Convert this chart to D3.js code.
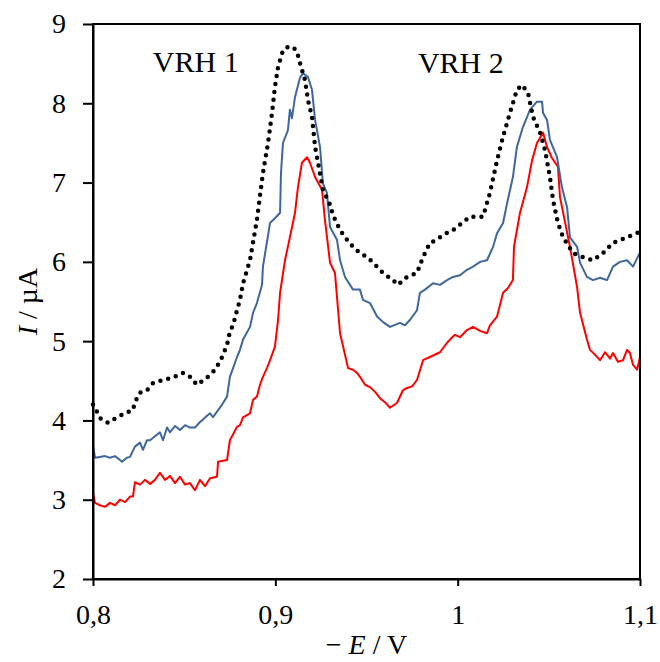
<!DOCTYPE html>
<html>
<head>
<meta charset="utf-8">
<script src="https://cdn.jsdelivr.net/npm/d3@7"></script>
<style>
  body { margin: 0; background: #fff; }
  svg text { font-family: "Liberation Serif", "Times New Roman", serif; fill: #000; }
</style>
</head>
<body>
<div id="chart"></div>
<script>
// size of the picture and the margins round the plot area
var width = 660,
    height = 662,
    margin = {top: 24, right: 20, bottom: 83, left: 93};

var innerW = width - margin.left - margin.right,
    innerH = height - margin.top - margin.bottom;

// tick labels
var xTicks = [0.8, 0.9, 1.0, 1.1];
var xTickLabels = ["0,8", "0,9", "1", "1,1"];
var yTicks = [2, 3, 4, 5, 6, 7, 8, 9];

// black dotted curve (potential, current)
var blackE = [0.8000,0.8011,0.8038,0.8082,0.8132,0.8176,0.8219,0.8230,0.8258,0.8296,0.8329,0.8384,0.8439,0.8494,0.8532,0.8570,0.8625,0.8658,0.8697,0.8735,0.8751,0.8768,0.8790,0.8806,0.8823,0.8861,0.8899,0.8932,0.8960,0.8982,0.8998,0.9015,0.9042,0.9069,0.9097,0.9119,0.9135,0.9163,0.9179,0.9201,0.9218,0.9234,0.9261,0.9300,0.9316,0.9355,0.9393,0.9426,0.9464,0.9503,0.9536,0.9591,0.9645,0.9672,0.9722,0.9777,0.9810,0.9848,0.9887,0.9920,0.9974,1.0013,1.0068,1.0139,1.0177,1.0216,1.0249,1.0287,1.0325,1.0353,1.0386,1.0413,1.0452,1.0479,1.0506,1.0523,1.0550,1.0578,1.0633,1.0687,1.0742,1.0797,1.0852,1.0929,1.1000];
var blackI = [4.20,4.16,4.03,3.97,4.04,4.09,4.13,4.23,4.35,4.38,4.47,4.51,4.54,4.60,4.55,4.45,4.54,4.61,4.74,4.95,5.12,5.20,5.39,5.52,5.73,6.02,6.53,7.12,7.50,7.88,8.21,8.46,8.67,8.71,8.71,8.65,8.51,8.29,8.04,7.83,7.45,7.25,6.91,6.72,6.59,6.40,6.28,6.19,6.11,6.06,5.99,5.86,5.77,5.71,5.81,5.86,6.06,6.24,6.28,6.34,6.40,6.47,6.57,6.57,6.87,7.28,7.58,7.88,8.17,8.23,8.13,7.83,7.63,7.41,7.07,6.78,6.49,6.31,6.11,6.06,6.02,6.11,6.24,6.31,6.38];

// blue curve
var blueE = [0.8000,0.8011,0.8038,0.8066,0.8093,0.8121,0.8148,0.8159,0.8186,0.8203,0.8230,0.8258,0.8274,0.8296,0.8313,0.8340,0.8367,0.8384,0.8406,0.8422,0.8450,0.8477,0.8505,0.8532,0.8559,0.8587,0.8603,0.8625,0.8642,0.8658,0.8680,0.8708,0.8735,0.8751,0.8790,0.8806,0.8823,0.8861,0.8878,0.8899,0.8927,0.8932,0.8971,0.8998,0.9026,0.9031,0.9042,0.9069,0.9080,0.9091,0.9108,0.9135,0.9152,0.9179,0.9201,0.9218,0.9245,0.9261,0.9283,0.9300,0.9338,0.9355,0.9382,0.9426,0.9464,0.9481,0.9519,0.9558,0.9591,0.9629,0.9684,0.9711,0.9739,0.9777,0.9793,0.9821,0.9865,0.9903,0.9942,0.9974,1.0013,1.0051,1.0084,1.0123,1.0161,1.0194,1.0216,1.0249,1.0271,1.0303,1.0325,1.0358,1.0397,1.0435,1.0463,1.0468,1.0490,1.0506,1.0545,1.0572,1.0600,1.0616,1.0655,1.0671,1.0709,1.0742,1.0781,1.0819,1.0852,1.0890,1.0929,1.0962,1.1000];
var blueI = [3.69,3.53,3.54,3.55,3.53,3.55,3.50,3.48,3.53,3.54,3.67,3.72,3.63,3.75,3.75,3.80,3.85,3.75,3.91,3.85,3.93,3.88,3.94,3.91,3.91,3.98,4.01,4.06,4.09,4.04,4.11,4.20,4.30,4.55,4.80,4.89,5.02,5.18,5.36,5.48,5.71,5.94,6.49,6.55,6.62,7.12,7.50,7.66,7.92,7.81,8.08,8.32,8.38,8.33,8.17,7.79,7.45,6.99,6.87,6.44,6.28,6.02,5.81,5.65,5.65,5.52,5.48,5.31,5.24,5.18,5.23,5.20,5.27,5.39,5.61,5.65,5.73,5.71,5.77,5.81,5.83,5.90,5.94,6.00,6.02,6.19,6.36,6.49,6.74,7.07,7.45,7.70,7.92,8.02,8.02,7.88,7.79,7.54,7.32,6.94,6.69,6.31,6.19,5.99,5.81,5.77,5.80,5.77,5.94,6.00,6.02,5.94,6.12];

// red curve
var redE = [0.8000,0.8011,0.8038,0.8066,0.8093,0.8121,0.8148,0.8176,0.8203,0.8219,0.8230,0.8258,0.8285,0.8313,0.8340,0.8367,0.8395,0.8422,0.8450,0.8477,0.8505,0.8532,0.8559,0.8587,0.8614,0.8642,0.8680,0.8686,0.8735,0.8751,0.8790,0.8806,0.8823,0.8861,0.8878,0.8899,0.8916,0.8932,0.8954,0.8971,0.8998,0.9015,0.9026,0.9053,0.9080,0.9108,0.9124,0.9146,0.9174,0.9190,0.9218,0.9256,0.9272,0.9300,0.9327,0.9355,0.9399,0.9426,0.9448,0.9464,0.9492,0.9519,0.9547,0.9574,0.9601,0.9629,0.9667,0.9700,0.9722,0.9750,0.9777,0.9810,0.9848,0.9903,0.9942,0.9958,0.9985,1.0013,1.0051,1.0084,1.0123,1.0161,1.0177,1.0216,1.0249,1.0276,1.0303,1.0309,1.0342,1.0380,1.0408,1.0435,1.0468,1.0490,1.0517,1.0550,1.0561,1.0589,1.0616,1.0655,1.0671,1.0709,1.0726,1.0753,1.0781,1.0808,1.0836,1.0852,1.0879,1.0907,1.0929,1.0945,1.0962,1.0984,1.1000];
var redI = [3.09,2.96,2.93,2.91,2.96,2.93,3.00,2.97,3.04,3.04,3.22,3.19,3.25,3.20,3.25,3.34,3.25,3.30,3.21,3.29,3.19,3.21,3.12,3.25,3.17,3.27,3.29,3.48,3.50,3.75,3.92,3.94,4.04,4.09,4.26,4.30,4.45,4.55,4.66,4.76,4.93,5.27,5.61,6.02,6.31,6.62,6.94,7.25,7.32,7.25,7.07,6.91,6.53,5.99,5.86,5.10,4.66,4.64,4.60,4.55,4.45,4.42,4.36,4.28,4.23,4.16,4.22,4.38,4.41,4.43,4.51,4.76,4.80,4.86,4.98,5.02,5.08,5.05,5.14,5.18,5.13,5.10,5.20,5.31,5.61,5.67,5.77,6.19,6.62,6.94,7.28,7.50,7.63,7.45,7.31,7.20,6.82,6.50,6.19,5.68,5.36,5.02,4.89,4.83,4.76,4.86,4.78,4.85,4.74,4.76,4.89,4.85,4.70,4.64,4.80];

var svg = d3.select("#chart")
    .append("svg")
    .attr("width", width)
    .attr("height", height)
    .append("g")
    .attr("transform", "translate(" + margin.left + "," + margin.top + ")");

var x = d3.scaleLinear().domain([0.8, 1.1]).range([0, innerW]);
var y = d3.scaleLinear().domain([2, 9]).range([innerH, 0]);

function pairs(es, is) {
    var n = Math.min(es.length, is.length);
    return d3.range(n).map(function(i) { return [es[i], is[i]]; });
}

var line = d3.line()
    .x(function(d) { return x(d[0]); })
    .y(function(d) { return y(d[1]); });

// curves
svg.append("path")
    .datum(pairs(redE, redI))
    .attr("d", line)
    .attr("fill", "none")
    .attr("stroke", "#ff0000")
    .attr("stroke-width", 2)
    .attr("stroke-linejoin", "round");

svg.append("path")
    .datum(pairs(blueE, blueI))
    .attr("d", line)
    .attr("fill", "none")
    .attr("stroke", "#3e679d")
    .attr("stroke-width", 2)
    .attr("stroke-linejoin", "round");

svg.append("path")
    .datum(pairs(blackE, blackI))
    .attr("d", line)
    .attr("fill", "none")
    .attr("stroke", "#000")
    .attr("stroke-width", 4.5)
    .attr("stroke-linecap", "round")
    .attr("stroke-dasharray", "0,8");

// frame round the plot
svg.append("rect")
    .attr("width", innerW)
    .attr("height", innerH)
    .attr("fill", "none")
    .attr("stroke", "#000")
    .attr("stroke-width", 2);

// axes
var xAxis = svg.append("g")
    .attr("transform", "translate(0," + innerH + ")")
    .call(d3.axisBottom(x).tickValues(xTicks)
        .tickFormat(function(d, i) { return xTickLabels[i]; })
        .tickSizeInner(7).tickSizeOuter(0).tickPadding(18));

var yAxis = svg.append("g")
    .call(d3.axisLeft(y).tickValues(yTicks)
        .tickFormat(d3.format("d"))
        .tickSizeInner(10).tickSizeOuter(0).tickPadding(17));

[xAxis, yAxis].forEach(function(a) {
    a.attr("font-family", null);
    a.select(".domain").attr("stroke-width", 2);
    a.selectAll(".tick line").attr("stroke-width", 2);
    a.selectAll("text").attr("font-size", 28);
});

// peak labels
svg.append("text")
    .attr("x", x(0.8328)).attr("y", y(8.4))
    .attr("font-size", 30)
    .text("VRH 1");

svg.append("text")
    .attr("x", x(0.9782)).attr("y", y(8.38))
    .attr("font-size", 30)
    .text("VRH 2");

// axis titles
var xt = svg.append("text")
    .attr("x", innerW / 2)
    .attr("y", innerH + 75)
    .attr("text-anchor", "middle")
    .attr("font-size", 28);
xt.append("tspan").text("\u2212 ");
xt.append("tspan").attr("font-style", "italic").text("E");
xt.append("tspan").text(" / V");

var yt = svg.append("text")
    .attr("transform", "translate(" + (-56) + "," + (innerH / 2) + ") rotate(-90)")
    .attr("text-anchor", "middle")
    .attr("font-size", 28);
yt.append("tspan").attr("font-style", "italic").text("I");
yt.append("tspan").text(" / \u00b5A");
</script>
</body>
</html>
